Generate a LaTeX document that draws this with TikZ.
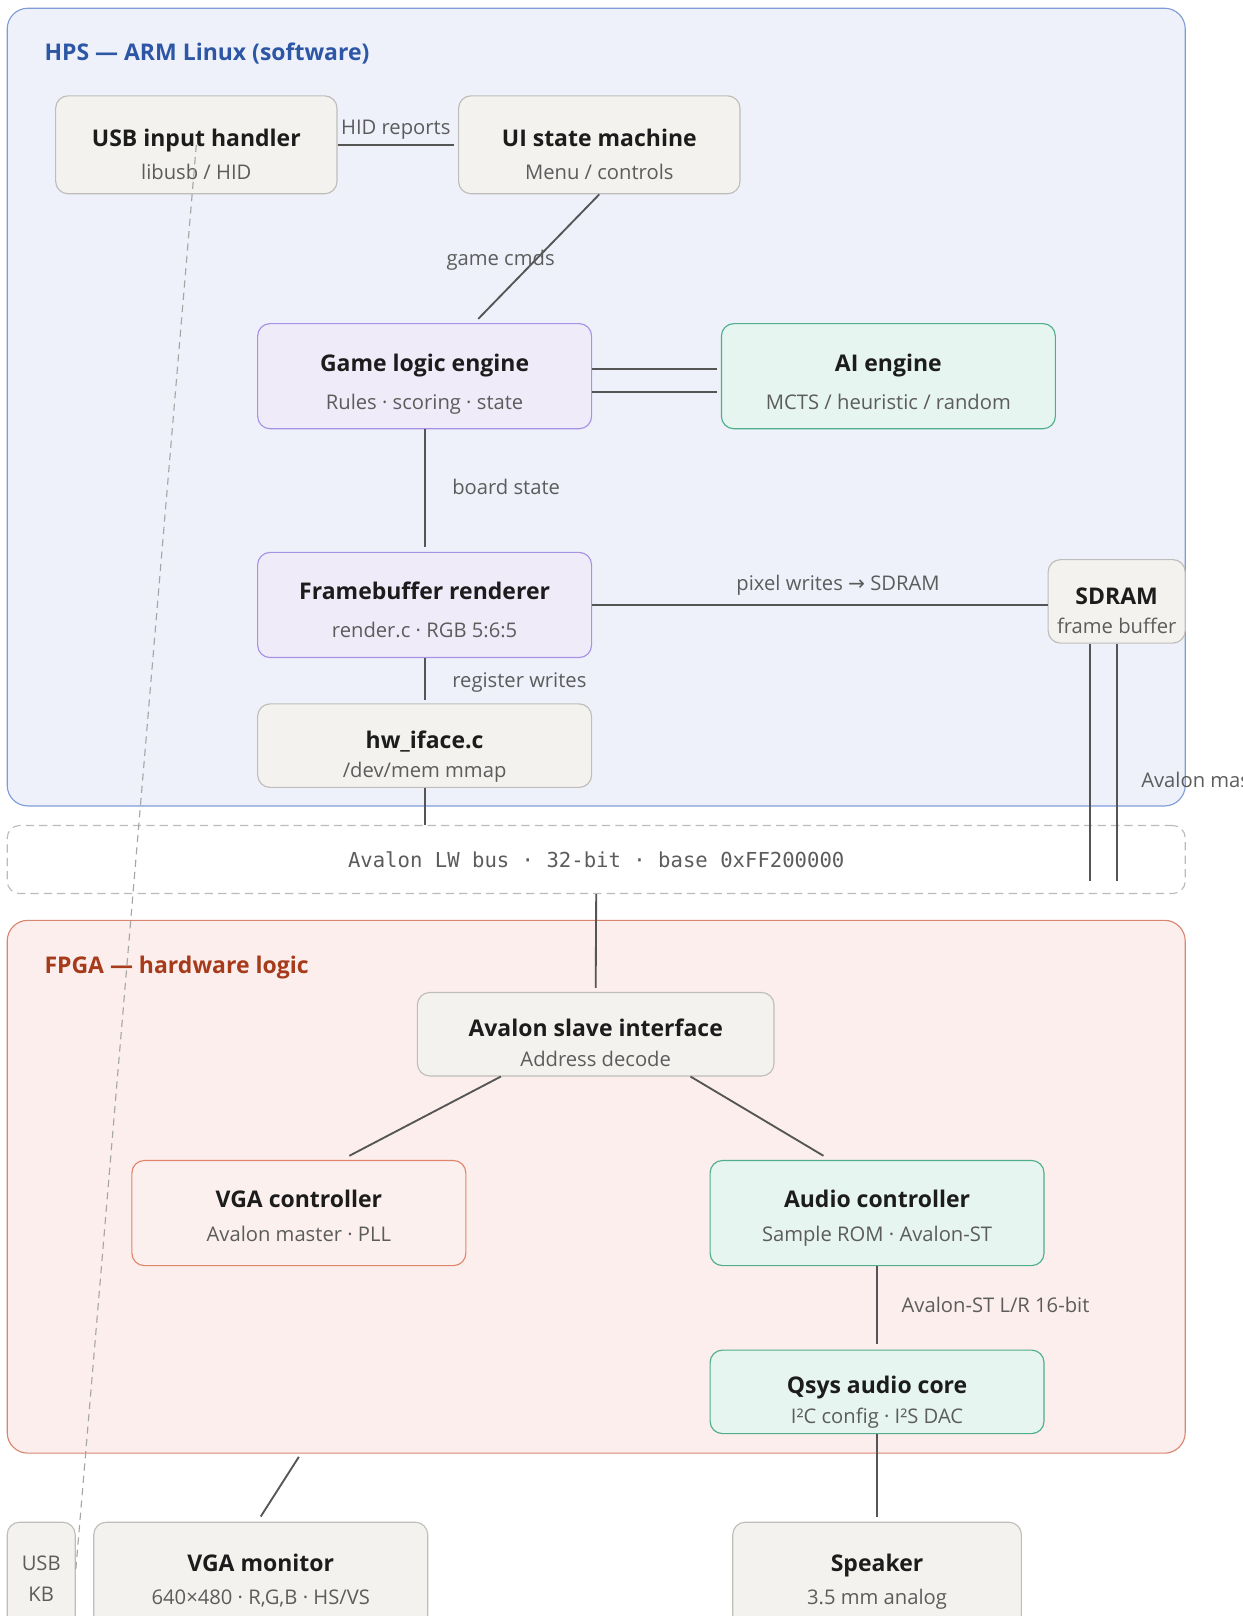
\documentclass[tikz,border=0pt]{standalone}
\usepackage{fontspec}
\setmainfont{Open Sans}
\setmonofont{DejaVu Sans Mono}
\newfontfamily\arrowfont{DejaVu Sans}
\usetikzlibrary{calc}
\definecolor{hpsfill}{HTML}{EEF1FA}
\definecolor{hpsline}{HTML}{7F9CD8}
\definecolor{hpstext}{HTML}{2D56A5}
\definecolor{fpgafill}{HTML}{FCEEEC}
\definecolor{fpgaline}{HTML}{D98670}
\definecolor{fpgatext}{HTML}{A63B1C}
\definecolor{boxgray}{HTML}{F3F2EF}
\definecolor{boxgrayline}{HTML}{BEBDB9}
\definecolor{boxlav}{HTML}{F0EBF9}
\definecolor{boxlavline}{HTML}{A693E6}
\definecolor{boxmint}{HTML}{E6F5EF}
\definecolor{boxmintline}{HTML}{4FAE8C}
\definecolor{boxvga}{HTML}{FCF0EE}
\definecolor{boxvgaline}{HTML}{E0856B}
\definecolor{wirecol}{HTML}{555555}
\definecolor{subtext}{HTML}{5C5C5C}
\definecolor{ink}{HTML}{1C1C1C}
\definecolor{busline}{HTML}{BBBBBB}
\newcommand{\ttlfont}{\fontsize{22.3}{26}\selectfont\bfseries}
\newcommand{\subfont}{\fontsize{19.6}{22}\selectfont}
\newcommand{\boxttl}[1]{{\ttlfont\color{ink}#1}}
\tikzset{
  blk/.style      = {rectangle, rounded corners=12pt, line width=1.1pt, inner sep=0pt, align=center, font=\subfont, text=subtext},
  blkgray/.style  = {blk, draw=boxgrayline, fill=boxgray},
  blklav/.style   = {blk, draw=boxlavline, fill=boxlav},
  blkmint/.style  = {blk, draw=boxmintline, fill=boxmint},
  blkvga/.style   = {blk, draw=boxvgaline, fill=boxvga},
  txtpos/.style   = {text height=#1, text depth=0pt},
  wire/.style     = {draw=wirecol, line width=1.8pt},
  usblink/.style  = {draw=black!35, line width=1.1pt, dash pattern=on 7pt off 5pt},
}
\begin{document}
\begin{tikzpicture}[
    x=1pt, y=-1pt,
    grp/.style={rectangle, rounded corners=20pt, line width=1.1pt, minimum width=1143pt},
    grptitle/.style={anchor=west, inner sep=0pt, font=\ttlfont},
    busbox/.style={rectangle, rounded corners=12pt, draw=busline, line width=1.1pt,
                   dash pattern=on 8pt off 5pt, fill=white, minimum width=1143pt,
                   minimum height=66pt, font=\ttfamily\fontsize{20}{24}\selectfont, text=subtext},
    wlabel/.style={inner sep=0pt, font=\subfont, text=subtext},
]

\useasboundingbox (0,0) rectangle (1206,1568);
\clip (0,0) rectangle (1206,1568);

% ==================== groups ====================
\node[grp, draw=hpsline, fill=hpsfill, minimum height=774pt] (hps) at (578.5,395) {};
\node[grptitle, text=hpstext] (hpslabel) at (43,52) {HPS — ARM Linux (software)};

\node[busbox] (bus) at (578.5,834) {Avalon LW bus · 32-bit · base 0xFF200000};

\node[grp, draw=fpgaline, fill=fpgafill, minimum height=517pt] (fpga) at (578.5,1151.5) {};
\node[grptitle, text=fpgatext] (fpgalabel) at (43,939) {FPGA — hardware logic};

% ==================== HPS blocks ====================
\node[blkgray, txtpos=68pt, minimum width=273pt, minimum height=95pt] (usb) at (190.5,140.5)
    {\boxttl{USB input handler}\\[10pt]libusb / HID};
\node[blkgray, txtpos=68pt, minimum width=273pt, minimum height=95pt] (ui) at (581.5,140.5)
    {\boxttl{UI state machine}\\[10pt]Menu / controls};

\node[blklav, txtpos=65pt, minimum width=324pt, minimum height=102pt] (game) at (412,365)
    {\boxttl{Game logic engine}\\[15pt]Rules · scoring · state};
\node[blkmint, txtpos=65pt, minimum width=324pt, minimum height=102pt] (ai) at (862,365)
    {\boxttl{AI engine}\\[15pt]MCTS / heuristic / random};

\node[blklav, txtpos=63pt, minimum width=324pt, minimum height=102pt] (fb) at (412,587)
    {\boxttl{Framebuffer renderer}\\[15pt]render.c · RGB 5:6:5};
\node[blkgray, txtpos=62pt, minimum width=133pt, minimum height=81pt] (sdram) at (1083.5,583.5)
    {\boxttl{SDRAM}\\[6pt]frame buffer};

\node[blkgray, txtpos=62pt, minimum width=324pt, minimum height=81pt] (hw) at (412,723.5)
    {\boxttl{hw\_iface.c}\\[6pt]/dev/mem mmap};

% ==================== FPGA blocks ====================
\node[blkgray, txtpos=62pt, minimum width=346pt, minimum height=81pt] (avs) at (578,1003.5)
    {\boxttl{Avalon slave interface}\\[7pt]Address decode};

\node[blkvga, txtpos=55pt, minimum width=324pt, minimum height=102pt] (vga) at (290,1177)
    {\boxttl{VGA controller}\\[11pt]Avalon master · PLL};
\node[blkmint, txtpos=55pt, minimum width=324pt, minimum height=102pt] (audio) at (851,1177)
    {\boxttl{Audio controller}\\[11pt]Sample ROM · Avalon-ST};

\node[blkmint, txtpos=62pt, minimum width=324pt, minimum height=81pt] (qsys) at (851,1350.5)
    {\boxttl{Qsys audio core}\\[7pt]I²C config · I²S DAC};

% ==================== peripherals ====================
\node[blkgray, txtpos=51pt, minimum width=66pt, minimum height=102pt] (usbkb) at (40,1528)
    {USB\\[8pt]KB};
\node[blkgray, txtpos=57pt, minimum width=324pt, minimum height=102pt] (vgamon) at (253,1528)
    {\boxttl{VGA monitor}\\[10pt]640×480 · R,G,B · HS/VS};
\node[blkgray, txtpos=57pt, minimum width=280pt, minimum height=102pt] (speaker) at (851,1528)
    {\boxttl{Speaker}\\[10pt]3.5 mm analog};

% ==================== HPS wires ====================
\draw[wire] (usb.east) -- node[wlabel, above=4pt] {HID reports} ($(ui.west)+(-4,0)$);
\draw[wire] (ui.south) -- node[wlabel, pos=0.5, xshift=-37pt, yshift=-4pt] {game cmds} ($(game.north)+(52,-4)$);

\draw[wire] ($(game.east)+(0,-7)$) -- ($(ai.west)+(-4,-7)$);
\draw[wire] ($(game.east)+(0,15)$) -- ($(ai.west)+(-4,15)$);

\draw[wire] (game.south) -- node[wlabel, pos=0.49, right=26pt] {board state} ($(fb.north)+(0,-5)$);
\draw[wire] (fb.east) -- node[wlabel, pos=0.54, above=8pt] {pixel writes {\arrowfont →} SDRAM} (fb.east -| sdram.west);
\draw[wire] (fb.south) -- node[wlabel, right=26pt, yshift=-3pt] {register writes} ($(hw.north)+(0,-3)$);
\draw[wire] (hw.south) -- (bus.north -| hw.south);

\coordinate (sdramA) at (1058,855);
\coordinate (sdramB) at (1083.5,855);
\draw[wire] ($(sdram.south)+(-25.5,0)$) -- (sdramA);
\draw[wire] (sdram.south) -- node[wlabel, pos=0.574, right=23pt] {Avalon master} (sdramB);

% ==================== FPGA wires ====================
\draw[wire] (bus.south) -- ($(avs.north)+(0,-4)$);
\draw[wire] ($(avs.south)+(-92,0)$) -- ($(vga.north)+(49,-4)$);
\draw[wire] ($(avs.south)+(92,0)$) -- ($(audio.north)+(-52,-4)$);
\draw[wire] (audio.south) -- node[wlabel, right=23pt] {Avalon-ST L/R 16-bit} ($(qsys.north)+(0,-5)$);

% ==================== to peripherals ====================
\draw[wire] (qsys.south) -- ($(speaker.north)+(0,-5)$);
\draw[wire] ($(fpga.south -| vga.south)+(0,3)$) -- ($(vgamon.north)+(0,-5)$);
\draw[usblink] (usb.center) -- ($(usbkb.east)+(0,-5)$);

\end{tikzpicture}
\end{document}
